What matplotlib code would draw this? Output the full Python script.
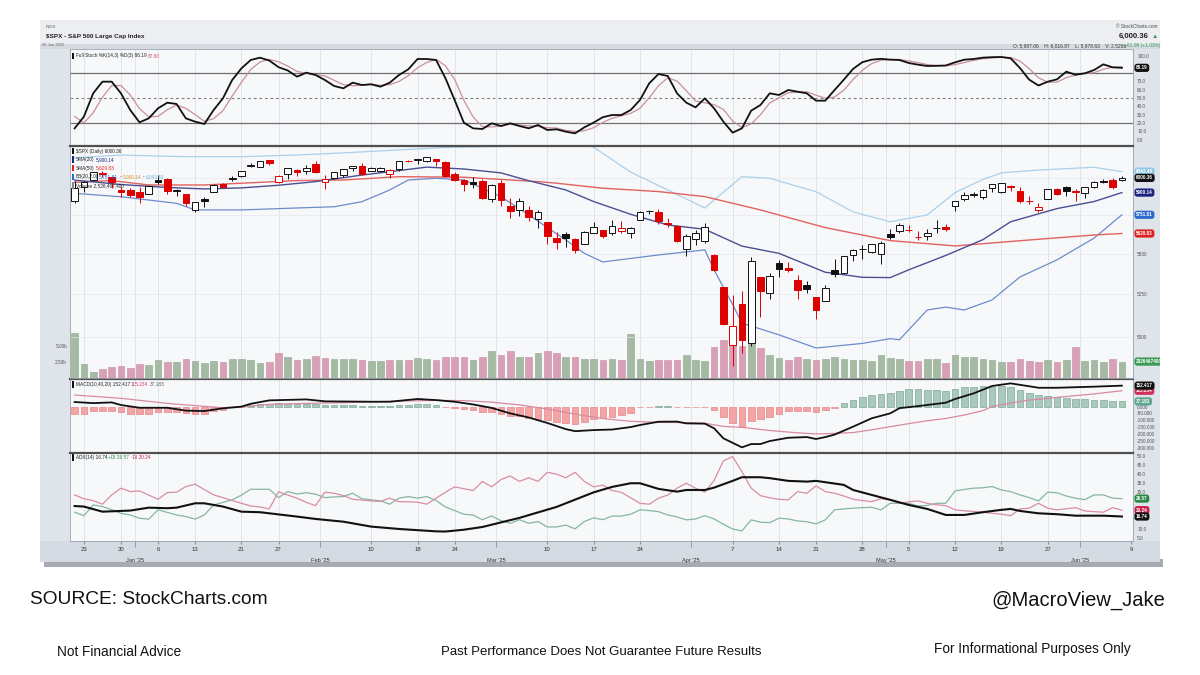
import numpy as np
import pandas as pd
import matplotlib
matplotlib.use('Agg')
import matplotlib.pyplot as plt
import matplotlib.text as mtext
from matplotlib.patches import Rectangle
from matplotlib.transforms import Bbox, TransformedBbox
from matplotlib.ticker import FixedLocator, NullLocator, FixedFormatter

W, H = 1200, 675
FONT = ['Liberation Sans', 'DejaVu Sans']
NOTE_FONT = ['Liberation Sans Narrow', 'Liberation Sans', 'DejaVu Sans']
plt.rcParams['font.family'] = FONT

# ---------------- DATA ----------------
holidays = ['2024-12-25', '2025-01-01', '2025-01-09', '2025-01-20',
            '2025-02-17', '2025-04-18', '2025-05-26']
start_date, end_date = '2024-12-20', '2025-06-09'

prev_close_before = 5867.08

opens = [5842.00, 5940.25, 5984.74, 6024.97, 6006.17, 5920.67, 5919.74, 5903.26, 5891.07, 5982.81,
         5993.26, 5910.66, 5890.66, 5782.35, 5859.37, 5905.21, 5961.80, 5995.09, 6014.12, 6081.39,
         6076.32, 6121.43, 5969.04, 6026.97, 6057.70, 6050.75, 6096.79, 5969.65, 5998.14, 6020.45,
         6072.22, 6083.13, 6046.40, 6049.32, 6025.08, 6060.59, 6115.52, 6121.60, 6117.76, 6134.50,
         6114.10, 6026.69, 5982.73, 5970.87, 5981.88, 5856.74, 5968.33, 5811.98, 5781.38, 5785.87,
         5726.01, 5705.37, 5603.65, 5624.84, 5594.45, 5563.85, 5635.60, 5654.53, 5632.37, 5646.92,
         5630.73, 5718.08, 5775.86, 5771.66, 5695.64, 5679.88, 5527.91, 5597.53, 5580.76, 5492.74,
         5292.14, 4953.79, 5193.57, 4965.28, 5353.15, 5255.56, 5441.96, 5411.99, 5335.75, 5305.45,
         5232.94, 5207.67, 5395.93, 5381.38, 5489.73, 5529.22, 5508.87, 5499.44, 5625.14, 5645.45,
         5655.32, 5605.88, 5614.27, 5663.14, 5674.32, 5807.64, 5854.00, 5886.55, 5869.28, 5929.10,
         5902.88, 5944.66, 5910.82, 5841.26, 5781.89, 5854.07, 5925.44, 5939.92, 5903.67, 5896.68,
         5938.56, 5978.94, 5985.67, 5987.06]
highs = [5982.06, 5978.25, 6040.10, 6049.75, 6006.17, 5940.79, 5929.74, 5935.09, 5949.34, 6021.04,
         6000.68, 5927.89, 5890.66, 5836.66, 5871.92, 5960.61, 5964.69, 6014.96, 6051.51, 6100.81,
         6118.73, 6128.18, 6017.17, 6069.90, 6062.83, 6086.64, 6120.91, 6022.13, 6042.48, 6062.86,
         6084.03, 6101.28, 6073.38, 6076.28, 6064.91, 6116.91, 6127.47, 6129.63, 6147.43, 6134.50,
         6114.82, 6043.65, 5992.65, 6009.82, 5993.69, 5959.40, 5986.09, 5865.08, 5860.59, 5812.08,
         5783.01, 5705.37, 5636.30, 5642.19, 5597.78, 5645.27, 5703.52, 5654.53, 5715.33, 5711.15,
         5670.84, 5775.14, 5783.71, 5786.95, 5732.28, 5685.89, 5627.56, 5650.57, 5695.31, 5499.53,
         5292.14, 5246.57, 5267.47, 5481.34, 5353.15, 5381.46, 5459.46, 5450.41, 5367.24, 5328.31,
         5232.94, 5309.60, 5469.69, 5489.40, 5528.11, 5553.66, 5565.33, 5581.84, 5658.91, 5700.70,
         5683.81, 5649.00, 5659.64, 5720.10, 5691.68, 5844.19, 5906.63, 5906.85, 5924.59, 5958.62,
         5968.61, 5953.06, 5938.37, 5878.08, 5829.51, 5924.33, 5929.00, 5943.13, 5922.14, 5937.40,
         5981.35, 5990.48, 5999.70, 6016.87]
lows = [5832.30, 5902.57, 5981.44, 6007.37, 5932.95, 5869.16, 5868.86, 5829.53, 5888.66, 5960.01,
        5890.68, 5874.78, 5809.97, 5773.31, 5805.60, 5905.21, 5936.33, 5978.44, 6006.88, 6076.13,
        6074.67, 6088.74, 5962.92, 5994.33, 6012.96, 6027.46, 6030.93, 5923.93, 5990.87, 6007.06,
        6046.83, 6019.96, 6044.84, 6042.34, 6003.00, 6051.00, 6107.62, 6099.51, 6111.15, 6084.59,
        6008.56, 5977.43, 5908.49, 5932.69, 5858.78, 5837.66, 5810.91, 5732.59, 5742.35, 5711.64,
        5666.29, 5564.02, 5528.41, 5546.09, 5504.65, 5563.85, 5631.12, 5597.76, 5622.20, 5632.57,
        5603.10, 5718.08, 5759.30, 5694.23, 5670.94, 5572.42, 5488.73, 5558.52, 5571.48, 5390.83,
        5069.90, 4835.04, 4910.42, 4948.43, 5115.27, 5220.77, 5358.02, 5386.44, 5220.79, 5255.58,
        5101.63, 5207.67, 5356.63, 5371.96, 5455.86, 5468.64, 5506.98, 5433.24, 5597.35, 5635.20,
        5639.08, 5590.79, 5590.19, 5635.83, 5644.71, 5775.65, 5845.25, 5868.20, 5855.56, 5907.35,
        5895.69, 5909.26, 5830.91, 5825.82, 5767.41, 5854.07, 5886.81, 5874.96, 5843.66, 5861.43,
        5929.00, 5966.11, 5921.20, 5978.63]
closes = [5930.85, 5974.07, 6040.04, 6037.59, 5970.84, 5906.94, 5881.63, 5868.55, 5942.47, 5975.38,
          5909.03, 5918.25, 5827.04, 5836.22, 5842.91, 5949.91, 5937.34, 5996.66, 6049.24, 6086.37,
          6118.71, 6101.24, 6012.28, 6067.70, 6039.31, 6071.17, 6040.53, 5994.57, 6037.88, 6061.48,
          6083.57, 6025.99, 6066.44, 6068.50, 6051.97, 6115.07, 6114.63, 6129.58, 6144.15, 6117.52,
          6013.13, 5983.25, 5955.25, 5956.06, 5861.57, 5954.50, 5849.72, 5778.15, 5842.63, 5738.52,
          5770.20, 5614.56, 5572.07, 5599.30, 5521.52, 5638.94, 5675.12, 5614.66, 5675.29, 5662.89,
          5667.56, 5767.57, 5776.65, 5712.20, 5693.31, 5580.94, 5611.85, 5633.07, 5670.97, 5396.52,
          5074.08, 5062.25, 4982.77, 5456.90, 5268.05, 5363.36, 5405.97, 5396.63, 5275.70, 5282.70,
          5158.20, 5287.76, 5375.86, 5484.77, 5525.21, 5528.75, 5560.83, 5569.06, 5604.14, 5686.67,
          5650.38, 5606.91, 5631.28, 5663.94, 5659.91, 5844.19, 5886.55, 5892.58, 5916.93, 5958.38,
          5963.60, 5940.46, 5844.61, 5842.01, 5802.82, 5921.54, 5888.55, 5912.17, 5911.69, 5935.94,
          5970.37, 5970.81, 5939.30, 6000.36]
volume_b = [6.9, 2.2, 0.9, 1.4, 1.7, 1.8, 1.6, 2.1, 2.0, 2.7, 2.5, 2.4, 2.9, 2.6, 2.3, 2.6, 2.4, 2.9, 2.9, 2.7,
            2.3, 2.4, 3.9, 3.2, 2.7, 2.9, 3.4, 3.1, 3.0, 3.0, 3.0, 2.8, 2.6, 2.6, 2.7, 2.8, 2.7, 3.1, 2.9, 2.8,
            3.3, 3.2, 3.3, 2.8, 3.2, 4.2, 3.5, 4.1, 3.2, 3.2, 3.8, 4.2, 3.9, 3.3, 3.2, 2.9, 2.9, 2.8, 2.9, 2.8,
            6.8, 2.9, 2.6, 2.7, 2.7, 2.7, 3.5, 2.7, 2.6, 4.8, 5.9, 5.8, 5.0, 6.5, 4.6, 3.5, 3.1, 2.7, 3.2, 2.9,
            2.8, 2.9, 3.3, 3.0, 2.8, 2.7, 2.6, 3.6, 3.1, 2.9, 2.6, 2.6, 3.0, 3.0, 2.3, 3.5, 3.3, 3.3, 3.0, 2.8,
            2.4, 2.4, 2.9, 2.6, 2.4, 2.8, 2.5, 2.7, 4.8, 2.6, 2.8, 2.5, 2.9, 2.5]

sma20_idx = [0, 5, 10, 14, 18, 22, 26, 31, 38, 42, 46, 49, 53, 56, 60, 64, 68, 72, 76, 81, 85, 88, 90, 94, 98, 101, 106, 110, 113]
sma20_val = [5985, 5955, 5935, 5925, 5932, 5950, 5975, 6020, 6075, 6062, 6035, 5981, 5918, 5840, 5755, 5685, 5657,
             5549, 5503, 5385, 5354, 5352, 5400, 5490, 5590, 5706, 5793, 5840, 5900.14]
sma50_idx = [0, 4, 8, 14, 24, 29, 35, 42, 50, 52, 57, 63, 68, 74, 81, 88, 95, 103, 110, 113]
sma50_val = [5970, 5982, 5952, 5952, 5982, 5986, 6009, 6005, 5975, 5964, 5930, 5907, 5873, 5784, 5668, 5584, 5550,
             5588, 5620, 5629.83]
bbu_idx = [0, 5, 12, 18, 24, 29, 35, 40, 46, 55, 56, 60, 64, 68, 69, 72, 75, 80, 84, 88, 92, 95, 98, 100, 104, 110, 113]
bbu_val = [6140, 6160, 6148, 6148, 6160, 6175, 6196, 6213, 6220, 6228, 6216, 6040, 5918, 5797, 5850, 6009, 5998,
           5906, 5771, 5706, 5751, 5900, 5990, 6035, 6055, 6074, 6043.48]
bbl_idx = [0, 5, 11, 13, 18, 24, 28, 31, 34, 36, 39, 42, 46, 49, 53, 55, 57, 63, 68, 69, 71, 72, 76, 80, 85, 88, 89,
           92, 94, 96, 99, 102, 106, 110, 113]
bbl_val = [5895, 5872, 5828, 5784, 5784, 5797, 5805, 5839, 5918, 5986, 5998, 5986, 5873, 5751, 5588, 5503, 5449,
           5493, 5525, 5399, 5190, 5080, 5012, 4937, 4963, 4990, 4984, 5157, 5174, 5157, 5217, 5356, 5462, 5600,
           5751.81]

stoch_k = [13.6, 27.6, 55.6, 69.6, 69.6, 55.6, 35.6, 20.8, 25.6, 37.6, 44.4, 42.8, 25.6, 21.6, 18.8, 35.6, 49.6,
           71.6, 85.6, 95.6, 98.4, 95.0, 87.0, 83.0, 75.6, 80.4, 77.6, 71.6, 64.4, 61.6, 68.4, 65.6, 66.4, 63.6,
           68.4, 77.6, 84.4, 96.8, 96.8, 95.6, 74.0, 47.6, 20.4, 13.6, 12.8, 19.6, 16.4, 19.6, 16.4, 13.6, 17.6,
           11.6, 12.4, 9.6, 7.6, 14.8, 20.5, 27.0, 29.6, 29.6, 35.6, 47.6, 67.6, 78.8, 76.4, 55.6, 44.4, 38.8,
           49.6, 37.6, 21.6, 8.4, 13.6, 34.8, 41.6, 55.6, 53.6, 59.6, 57.6, 55.6, 46.8, 46.8, 59.6, 72.0, 85.0,
           93.0, 96.0, 97.0, 96.0, 95.6, 92.0, 90.0, 88.4, 88.6, 89.0, 92.8, 96.0, 96.8, 98.4, 99.0, 99.2, 97.6,
           86.0, 72.0, 65.0, 69.6, 72.4, 81.6, 78.0, 79.6, 83.6, 90.4, 86.8, 86.19]
stoch_d = [28.0, 20.0, 32.3, 50.9, 64.9, 64.9, 53.6, 37.3, 27.3, 28.0, 35.9, 41.6, 37.6, 30.0, 22.0, 25.3, 34.7,
           52.3, 68.9, 84.3, 93.2, 96.3, 93.5, 88.3, 81.9, 79.7, 77.9, 76.5, 71.2, 65.9, 64.8, 65.2, 66.8, 65.2,
           66.1, 69.9, 76.8, 86.3, 92.7, 96.4, 88.8, 72.4, 47.3, 27.2, 15.6, 15.3, 16.3, 18.5, 17.5, 16.5, 15.9,
           14.3, 13.9, 11.2, 9.9, 10.7, 14.3, 20.8, 25.7, 28.7, 31.6, 37.6, 50.3, 64.7, 74.3, 70.3, 58.8, 46.3,
           44.3, 42.0, 36.3, 22.5, 14.5, 18.9, 30.0, 44.0, 50.3, 56.3, 56.9, 57.6, 53.3, 49.7, 51.1, 59.5, 72.2,
           83.3, 91.3, 95.3, 96.3, 96.2, 94.5, 92.5, 90.1, 89.0, 88.7, 90.1, 92.6, 95.2, 97.1, 98.1, 98.9, 98.6,
           94.3, 85.2, 74.3, 68.9, 69.0, 74.5, 77.3, 79.7, 80.4, 84.5, 86.9, 87.60]

macd_idx = [0, 2, 4, 5, 7, 10, 12, 14, 16, 18, 19, 21, 25, 27, 32, 34, 37, 39, 41, 43, 45, 47, 49, 51, 53, 54, 56,
            58, 60, 61, 63, 65, 66, 68, 69, 70, 72, 73, 74, 75, 77, 79, 80, 81, 82, 84, 86, 88, 89, 91, 94, 95, 97,
            99, 101, 103, 104, 106, 110, 113]
macd_val = [33, 25, 30, 11, -9, -9, -30, -33, -13, -1, 20, 45, 52, 38, 35, 35, 55, 47, 35, 15, -10, -50, -80, -120,
            -165, -180, -172, -168, -150, -135, -111, -110, -123, -125, -159, -232, -298, -274, -274, -252, -228,
            -223, -237, -223, -205, -147, -86, -50, -12, 3, 28, 55, 96, 150, 169, 148, 137, 137, 145, 152.417]
signal_idx = [0, 5, 10, 16, 19, 21, 25, 29, 32, 39, 42, 45, 48, 51, 54, 57, 60, 63, 66, 68, 70, 72, 75, 78, 80, 82,
              84, 86, 88, 90, 92, 94, 96, 98, 99, 101, 103, 106, 110, 113]
signal_val = [84, 60, 23, -9, 4, 16, 23, 28, 35, 45, 43, 32, 12, -18, -56, -88, -108, -115, -118, -122, -145, -152,
              -175, -192, -200, -196, -190, -170, -147, -125, -104, -87, -62, -30, 0, 25, 47, 67, 92, 115.234]
macd_hist = [-51, -51, -36, -32, -32, -39, -51, -56, -51, -39, -39, -39, -44, -56, -56, -36, -27, -7, -2,
             8, 15, 22, 24, 22, 20, 22, 18, 12, 10, 8, 8, 6, 5, 4, 5, 10, 14, 18, 16, 12,
             -2, -10, -18, -25, -40, -42, -55, -68, -72, -82, -88, -102, -110, -122, -124, -110, -94, -87, -73, -59, -44,
             -7, -5, 4, 4, -6, -7, -7, -7, -24, -80, -117, -148, -105, -92, -75, -51, -32, -32, -32, -37, -27, -10,
             24, 49, 66, 83, 90, 97, 114, 127, 127, 119, 119, 114, 127, 139, 146,
             151, 146, 151, 144, 122, 102, 83, 78, 71, 61, 56, 54, 51, 49, 41, 37.183]

adx_idx = [0, 1, 3, 6, 8, 10, 11, 13, 14, 16, 18, 20, 21, 24, 26, 29, 32, 35, 39, 40, 42, 44, 46, 48, 50, 52, 54, 56,
           58, 60, 61, 63, 65, 66, 68, 69, 71, 72, 74, 75, 77, 79, 80, 83, 84, 86, 88, 90, 92, 94, 96, 98, 100, 101,
           102, 104, 106, 108, 111, 113]
adx_val = [22.5, 22.2, 19.4, 20.0, 21.6, 21.3, 21.6, 24.0, 24.0, 22.2, 19.4, 19.1, 18.5, 16.7, 15.4, 13.9, 11.2,
           9.9, 8.6, 8.5, 9.5, 11, 13.5, 16, 19, 22, 26, 30, 33, 35, 35.0, 31.9, 30.4, 31.3, 31.3, 32.6, 36.3, 38.3,
           38.3, 37.8, 36.3, 35.9, 36.3, 34.1, 31.3, 28.6, 25.9, 23.1, 20.9, 17.6, 17.6, 19.1, 20.4, 20.9, 19.8,
           18.5, 18.0, 17.2, 17.2, 16.74]
plus_di = [19.1, 17.2, 23.1, 22.2, 20.5, 18.5, 17.6, 15.8, 15.3, 20.4, 19.0, 17.6, 16.7, 15.3, 17.6, 23.1, 24.5,
           25.9, 28.5, 31.7, 31.7, 31.7, 27.1, 30.4, 29.1, 29.8, 29.0, 27.1, 27.5, 27.7, 29.5, 26.5, 25.9, 25.3,
           23.5, 26.8, 27.7, 26.8, 27.7, 25.5, 22, 20, 18, 17.5, 15, 17, 14.5, 13, 15, 13, 14, 11, 11, 12, 10, 14,
           16, 15, 17, 17, 18, 20.4, 20, 19.4, 17.6, 16.5, 14.9, 15.4, 17.2, 15.4, 12.5, 9.9, 8.8, 14.9, 13.6,
           13.4, 15.8, 15.4, 14.3, 13.9, 12.7, 14.9, 20.4, 20.9, 21.3, 21.6, 21.8, 20.4, 24.0, 24.0, 24.0, 22.5,
           22.8, 24.0, 24.0, 30.8, 31.6, 32.3, 32.5, 33.2, 31.3, 30.4, 28.6, 27.1, 25.3, 30.1, 29.8, 28.0, 26.8,
           26.0, 28.6, 28.6, 26.8, 26.57]
minus_di = [28.6, 26.5, 25.5, 23.5, 28.6, 32.3, 30.4, 30.8, 28.5, 26.2, 29.9, 30.1, 33.2, 34.5, 31.5, 28.6, 27.1,
            25.5, 24.0, 22.5, 22.0, 20.9, 30.4, 28.5, 26.8, 24.5, 22.7, 30.1, 29.5, 28.2, 26.2, 25.8, 25.3, 25.0,
            26.8, 24.9, 24.8, 24.6, 23.5, 26.8, 30, 33, 32, 31, 36, 33, 37, 39, 36, 38, 36, 41, 40, 38, 41, 36,
            33, 34, 31, 30, 27, 24.0, 23.5, 26.8, 28.5, 32.3, 35.0, 32.3, 30.1, 36.5, 47.3, 49.6, 41.4, 32.3, 28.2,
            27.0, 26.2, 25.9, 30.4, 29.5, 33.5, 30.4, 29.5, 28.0, 26.2, 25.5, 24.9, 26.5, 26.0, 24.0, 24.8, 25.3,
            24.0, 23.2, 22.7, 20.4, 19.9, 19.5, 19.1, 18.5, 18.0, 17.2, 20.9, 21.3, 24.0, 21.3, 20.4, 21.0, 21.6,
            19.8, 19.4, 19.1, 21.6, 20.24]

week_tick_dates = ['2024-12-23', '2024-12-30', '2025-01-06', '2025-01-13', '2025-01-21', '2025-01-27',
                   '2025-02-10', '2025-02-18', '2025-02-24', '2025-03-10', '2025-03-17', '2025-03-24',
                   '2025-04-07', '2025-04-14', '2025-04-21', '2025-04-28', '2025-05-05', '2025-05-12',
                   '2025-05-19', '2025-05-27', '2025-06-09']
month_first_dates = ['2025-01-02', '2025-02-03', '2025-03-03', '2025-04-01', '2025-05-01', '2025-06-02']
month_labels = ["Jan '25", "Feb '25", "Mar '25", "Apr '25", "May '25", "Jun '25"]

stoch_ticks = [0, 10, 20, 30, 40, 50, 60, 70, 100]
price_ticks = [5000, 5250, 5500]
macd_ticks = [-300, -250, -200, -150, -100, -50, 0]
adx_ticks = [5, 10, 30, 35, 40, 45, 50]

# ---------------- helpers ----------------
all_days = pd.bdate_range(start_date, end_date)
dates = all_days[~all_days.isin(pd.to_datetime(holidays))]
pos = {d.strftime('%Y-%m-%d'): i for i, d in enumerate(dates)}
week_idx = [pos[d] for d in week_tick_dates]
week_lbl = [str(pd.Timestamp(d).day) for d in week_tick_dates]
month_idx = [pos[d] - 0.5 for d in month_first_dates]
n = len(closes)
xs = np.arange(n)

fig = plt.figure(figsize=(12, 6.75), dpi=100)
fig.patch.set_facecolor('white')


def frect(x0, y0, x1, y1):
    return [x0 / W, 1 - y1 / H, (x1 - x0) / W, (y1 - y0) / H]


def fig_box(x0, y0, x1, y1, color, z=-5):
    fig.patches.append(Rectangle((x0 / W, 1 - y1 / H), (x1 - x0) / W, (y1 - y0) / H,
                                 transform=fig.transFigure, facecolor=color, edgecolor='none', zorder=z))


# frame / backgrounds
fig_box(44, 559, 1163, 567, '#a7abb1', z=-6)
fig_box(40, 20, 1160, 562, '#dfe4ea')
fig_box(40, 20, 1160, 44, '#eceef1')
fig_box(40, 44, 1160, 49, '#d6dbe2')
fig_box(40, 541, 1160, 562, '#d5dbe3')

PANEL = '#f7f8fa'
GRID = '#dde2e9'
XLIM = (-0.5, 114.2)

ax_st = fig.add_axes(frect(70, 49, 1133, 145))
ax_vol = fig.add_axes(frect(70, 146, 1133, 378))
ax_pr = fig.add_axes(frect(70, 146, 1133, 378))
ax_md = fig.add_axes(frect(70, 379, 1133, 452))
ax_dx = fig.add_axes(frect(70, 453, 1133, 541))
ax_vol.set_zorder(1)
ax_pr.set_zorder(2)
ax_pr.set_facecolor('none')
for a in (ax_st, ax_vol, ax_md, ax_dx):
    a.set_facecolor(PANEL)

grid_x = [w for w in week_idx if w < 114] + month_idx
for a in (ax_st, ax_vol, ax_md, ax_dx):
    for g in grid_x:
        a.axvline(g, color=GRID, lw=0.6, zorder=0)
    a.set_xlim(*XLIM)
ax_pr.set_xlim(*XLIM)

for a, topc in ((ax_st, '#9aa2ab'), (ax_pr, '#505050'), (ax_md, '#505050'), (ax_dx, '#505050')):
    for s in ('left', 'right', 'bottom'):
        a.spines[s].set_color('#9aa2ab')
        a.spines[s].set_linewidth(0.6)
    a.spines['top'].set_color(topc)
    a.spines['top'].set_linewidth(1.6 if topc == '#505050' else 0.6)
for s in ax_vol.spines.values():
    s.set_visible(False)

TICKC = '#555555'
TS = 3.4

# ---------------- Stochastic ----------------
ax_st.axhline(80, color='#707070', lw=0.9, zorder=1)
ax_st.axhline(20, color='#707070', lw=0.9, zorder=1)
ax_st.axhline(50, color='#808080', lw=0.8, ls=(0, (2.5, 2.5)), zorder=1)
ax_st.plot(xs, stoch_d, color='#c98f9d', lw=0.9, zorder=2)
ax_st.plot(xs, stoch_k, color='#111111', lw=1.3, zorder=3)
ax_st.set_ylim(-6.4, 108.8)
ax_st.yaxis.tick_right()
ax_st.set_yticks(stoch_ticks)
ax_st.set_yticklabels(['%.1f' % v for v in stoch_ticks])

# ---------------- Price + volume ----------------
up_day = [closes[i] >= (closes[i - 1] if i > 0 else prev_close_before) for i in range(n)]
vol_col = ['#a4baa2' if u else '#d8a0b4' for u in up_day]
vol_edge = ['#8fa58d' if u else '#c88ca2' for u in up_day]
ax_vol.bar(xs, volume_b, width=0.72, color=vol_col, edgecolor=vol_edge, linewidth=0.4, zorder=2)
ax_vol.set_ylim(0, 232 / 6.5)
ax_vol.set_yticks([2.5, 5.0])
ax_vol.set_yticklabels(['2.50b', '5.00b'])
ax_vol.set_xticks([])

ax_pr.set_yscale('log')
ax_pr.set_ylim(4770, 6224)
for lv in (5000, 5250, 5500, 5750, 6000):
    ax_pr.axhline(lv, color='#e3e7ed', lw=0.5, zorder=0.5)
ax_pr.plot(bbu_idx, bbu_val, color='#a9d1ea', lw=0.9, zorder=2)
ax_pr.plot(bbl_idx, bbl_val, color='#6c8ccc', lw=0.9, zorder=2)
ax_pr.plot(sma50_idx, sma50_val, color='#e2625f', lw=1.0, zorder=2)
ax_pr.plot(sma20_idx, sma20_val, color='#4a4f93', lw=1.0, zorder=2)

RED = '#dd0000'
for i in range(n):
    o, h, l, c = opens[i], highs[i], lows[i], closes[i]
    col = '#111111' if up_day[i] else RED
    hollow = c >= o
    ax_pr.vlines(i, l, h, color=col, lw=0.7, zorder=3)
    bottom = min(o, c)
    height = max(abs(c - o), 1.5)
    ax_pr.bar(i, height, bottom=bottom, width=0.72,
              facecolor='white' if hollow else col, edgecolor=col, linewidth=0.7, zorder=4)

ax_pr.yaxis.set_major_locator(FixedLocator(price_ticks))
ax_pr.yaxis.set_major_formatter(FixedFormatter([str(v) for v in price_ticks]))
ax_pr.yaxis.set_minor_locator(NullLocator())
ax_pr.yaxis.tick_right()
ax_pr.set_xticks([])

# ---------------- MACD ----------------
hcol = ['#a9c9bd' if v >= 0 else '#f4a4a4' for v in macd_hist]
hedge = ['#7fa99a' if v >= 0 else '#e58888' for v in macd_hist]
ax_md.bar(xs, macd_hist, width=0.72, color=hcol, edgecolor=hedge, linewidth=0.5, zorder=2)
ax_md.plot(signal_idx, signal_val, color='#d98aa0', lw=0.9, zorder=3)
ax_md.plot(macd_idx, macd_val, color='#111111', lw=1.3, zorder=4)
ax_md.set_ylim(-332, 201)
ax_md.yaxis.tick_right()
ax_md.set_yticks(macd_ticks)
ax_md.set_yticklabels(['%.3f' % v for v in macd_ticks])

# ---------------- ADX ----------------
ax_dx.plot(xs, plus_di, color='#86b6a1', lw=0.9, zorder=2)
ax_dx.plot(xs, minus_di, color='#d98ca5', lw=0.9, zorder=2)
ax_dx.plot(adx_idx, adx_val, color='#111111', lw=1.5, zorder=3)
ax_dx.set_ylim(3.3, 51.6)
ax_dx.yaxis.tick_right()
ax_dx.set_yticks(adx_ticks)
ax_dx.set_yticklabels(['%.1f' % v for v in adx_ticks])

for a in (ax_st, ax_md):
    a.set_xticks([])
ax_dx.set_xticks(week_idx)
ax_dx.set_xticklabels(week_lbl)
ax_dx.set_xticks(month_idx, minor=True)
ax_dx.set_xticklabels(month_labels, minor=True)
ax_dx.tick_params(axis='x', which='major', length=2, pad=2.2, labelsize=4.3, color='#8a9098', labelcolor='#333333')
ax_dx.tick_params(axis='x', which='minor', length=4, pad=8.5, labelsize=4.1, color='#8a9098', labelcolor='#333333')

for a in (ax_st, ax_pr, ax_md, ax_dx):
    a.tick_params(axis='y', which='both', length=0, pad=3, labelsize=TS, labelcolor=TICKC)
ax_vol.tick_params(axis='y', length=0, pad=2, labelsize=TS, labelcolor=TICKC)

# ---------------- right-side value tags ----------------
clipbb = TransformedBbox(Bbox.from_extents(0, 0, 1160 / W, 1), fig.transFigure)


def tag(ax, val, text, fc, tc='white'):
    t = ax.annotate(text, xy=(1.0, val), xycoords=ax.get_yaxis_transform(), xytext=(2.2, 0),
                    textcoords='offset points', ha='left', va='center', fontsize=3.3, fontweight='bold',
                    color=tc, annotation_clip=False, zorder=20,
                    bbox=dict(boxstyle='round,pad=0.35,rounding_size=0.6', fc=fc, ec='none'))
    t.set_clip_box(clipbb)
    t.set_clip_on(True)
    t.get_bbox_patch().set_clip_box(clipbb)
    t.get_bbox_patch().set_clip_on(True)
    return t


tag(ax_st, 86.19, '86.19', '#111111')
tag(ax_pr, 6043.48, '6043.48', '#8fc7e6')
tag(ax_pr, 5900.14, '5900.14', '#1c2380')
tag(ax_pr, 5751.81, '5751.81', '#2b6bd0')
tag(ax_pr, 5629.83, '5629.83', '#dd2222')
tag(ax_pr, 6000.36, '6000.36', '#111111')
tag(ax_vol, 2.526, '2526467400', '#3a9a52')
tag(ax_md, 37.183, '37.183', '#5fa68f')
tag(ax_md, 115.234, '115.234', '#d0305a')
tag(ax_md, 152.417, '152.417', '#111111')
tag(ax_dx, 26.57, '26.57', '#2a8a44')
tag(ax_dx, 20.24, '20.24', '#c8204c')
tag(ax_dx, 16.74, '16.74', '#111111')

# ---------------- legends inside panels ----------------
LS = 3.4


def chain(parts, x, y, size=LS, weight='normal', family=FONT, z=10):
    prev = None
    for t, c in parts:
        if prev is None:
            prev = fig.text(x / W, 1 - y / H, t, color=c, fontsize=size, ha='left', va='center',
                            family=family, fontweight=weight, zorder=z)
        else:
            ann = mtext.Annotation(t, xy=(1, 0.5), xycoords=prev, xytext=(1.0, 0), textcoords='offset points',
                                   color=c, fontsize=size, ha='left', va='center', family=family,
                                   fontweight=weight, zorder=z)
            fig.add_artist(ann)
            prev = ann
    return prev


def marker(x, y, color):
    fig_box(x, y - 3.2, x + 2.2, y + 3.2, color, z=9)


marker(72, 56, '#111111')
chain([('Full Stoch %K(14,3) %D(3) 86.19', '#222222'), ('87.60', '#d04a6a')], 75.5, 56)

leg_rows = [151, 159.5, 168, 176.8, 185.5]
marker(72, leg_rows[0], '#111111')
chain([('$SPX (Daily) 6000.36', '#222222')], 75.5, leg_rows[0])
marker(72, leg_rows[1], '#1c2380')
chain([('SMA(20)', '#222222'), ('5,900.14', '#1c2380')], 75.5, leg_rows[1])
marker(72, leg_rows[2], '#dd2222')
chain([('SMA(50)', '#222222'), ('5,629.83', '#dd2222')], 75.5, leg_rows[2])
marker(72, leg_rows[3], '#2b6bd0')
chain([('BB(20,2.0)', '#222222'), ('5,751.81', '#2b6bd0'), ('-', '#222222'), ('5,900.14', '#e0902a'),
       ('-', '#222222'), ('6,043.48', '#6fb3e0')], 75.5, leg_rows[3])
marker(72, leg_rows[4], '#8a8a8a')
chain([('Volume 2,526,467,400', '#222222')], 75.5, leg_rows[4])

marker(72, 384.3, '#111111')
chain([('MACD(10,40,20) 152.417', '#222222'), ('115.234', '#d0305a'), ('37.183', '#555555')], 75.5, 384.3)
marker(72, 457.5, '#111111')
chain([('ADX(14) 16.74', '#222222'), ('+DI 26.57', '#2a8a44'), ('-DI 20.24', '#c8204c')], 75.5, 457.5)

# ---------------- header ----------------
fig.text(46 / W, 1 - 26.5 / H, 'INDX', fontsize=3.2, color='#555555', va='center')
fig.text(46 / W, 1 - 36.5 / H, '$SPX - S&P 500 Large Cap Index', fontsize=4.6, fontweight='bold',
         color='#222222', va='center')
fig.text(42 / W, 1 - 45.5 / H, '06 Jun 2025', fontsize=3.0, color='#666666', va='center')
fig.text(1157 / W, 1 - 26.5 / H, '© StockCharts.com', fontsize=3.4, color='#444444', va='center', ha='right')
fig.text(1149 / W, 1 - 36.5 / H, '6,000.36', fontsize=5.6, fontweight='bold', color='#222222',
         va='center', ha='right')
fig.text(1158 / W, 1 - 36.5 / H, '▲', fontsize=4.6, color='#2e9a45', va='center', ha='right')
fig.text(1126 / W, 1 - 46 / H, 'O: 5,987.06    H: 6,016.87    L: 5,978.63    V: 2.526b',
         fontsize=3.5, color='#333333', va='center', ha='right')
fig.text(1160 / W, 1 - 46 / H, '+61.06 (+1.03%)', fontsize=3.5, color='#2e9a45', va='center', ha='right')

# ---------------- footer notes ----------------
fig.text(30 / W, 1 - 600 / H, 'SOURCE: StockCharts.com', fontsize=13.8, color='#111111',
         family=NOTE_FONT, va='center', ha='left')
fig.text(1165 / W, 1 - 600 / H, '@MacroView_Jake', fontsize=14.5, color='#111111',
         family=NOTE_FONT, va='center', ha='right')
fig.text(57 / W, 1 - 652 / H, 'Not Financial Advice', fontsize=9.8, color='#111111',
         family=NOTE_FONT, va='center', ha='left')
fig.text(601 / W, 1 - 652 / H, 'Past Performance Does Not Guarantee Future Results', fontsize=9.5,
         color='#111111', family=NOTE_FONT, va='center', ha='center')
fig.text(1032 / W, 1 - 649 / H, 'For Informational Purposes Only', fontsize=9.8, color='#111111',
         family=NOTE_FONT, va='center', ha='center')

fig.savefig('out.png', dpi=100, facecolor='white')
